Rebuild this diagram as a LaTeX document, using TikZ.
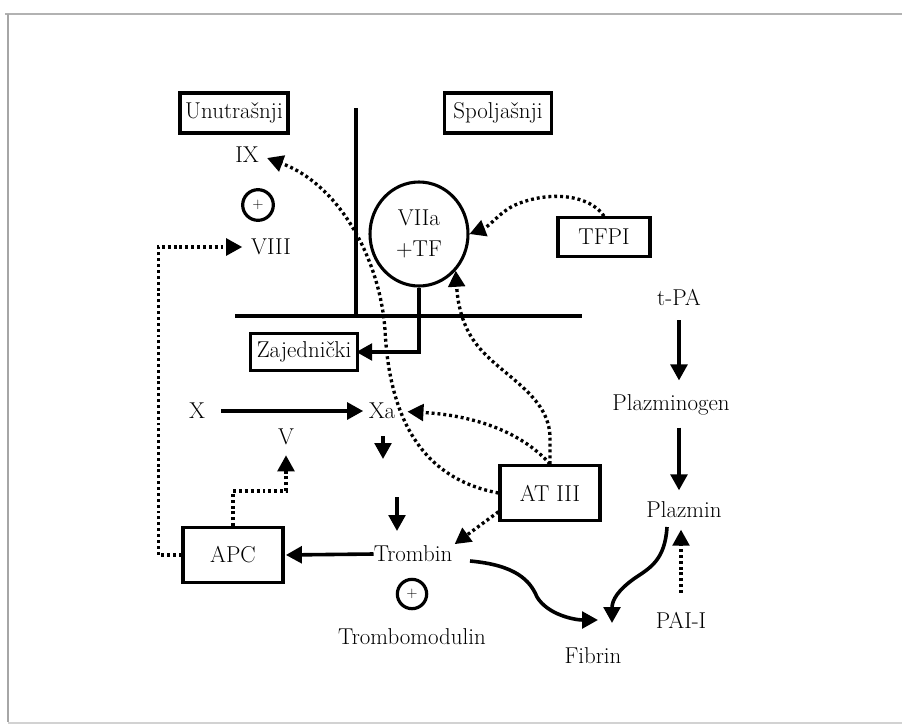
\documentclass[tikz,border=0pt]{standalone}
\usetikzlibrary{arrows.meta,shapes.geometric,calc}
\begin{document}
\begin{tikzpicture}[x=0.75pt,y=-0.75pt,
  every node/.style={font=\fontsize{17.2}{23}\selectfont, inner sep=0pt},
  box/.style={draw, line width=2.3pt, rectangle},
  wall/.style={line width=2.5pt},
  thk/.style={line width=2.7pt, -{Triangle[length=12pt,width=12.5pt]}},
  dots/.style={line width=2.5pt, dash pattern=on 2.2pt off 2.2pt, -{Triangle[length=12pt,width=12.5pt]}},
  plus/.style={circle, draw, line width=2.4pt, font=\fontsize{11}{12}\selectfont}
]
\useasboundingbox (0,0) rectangle (902,725);
% frame
\draw[gray!60, line width=2pt] (5,14) -- (902,14);
\draw[gray!70, line width=1.5pt] (8,14) -- (8,722);
\draw[gray!35, line width=1pt] (8,723) -- (902,723);

% top labels
\node[box, minimum width=81pt, minimum height=30pt] (unut) at (234,113) {Unutrašnji};
\node[box, minimum width=80pt, minimum height=30pt] (spol) at (498,113) {Spoljašnji};

% walls
\coordinate (vtop) at (356,108); \coordinate (vbot) at (356,316);
\coordinate (hl) at (235,316); \coordinate (hr) at (582,316);
\draw[wall] (vtop) -- (vbot);
\draw[wall] (hl) -- (hr);

% intrinsic side
\node (ix) at (247,155) {IX};
\node[plus, minimum size=23pt] (p1) at (258,205) {+};
\node (viii) at (271,247) {VIII};

% extrinsic
\node[draw, ellipse, line width=2.3pt, minimum width=73.5pt, minimum height=78pt, align=center] (c7) at (419,234) {VIIa\\+TF};
\node[box, minimum width=69pt, minimum height=29pt] (tfpi) at (604,237) {TFPI};

% common
\node[box, minimum width=80pt, minimum height=28pt] (zaj) at (304,352) {Zajednički};

\node (x) at (197,411) {X};
\node (xa) at (382,411) {Xa};
\node (v) at (286,437) {V};
\node[box, minimum width=75pt, minimum height=41pt] (at3) at (550,493) {AT III};
\node[box, minimum width=75pt, minimum height=41pt] (apc) at (233,555) {APC};
\node (trom) at (413,554) {Trombin};
\node[plus, minimum size=22pt] (p2) at (412,594) {+};
\node (tmod) at (412,637) {Trombomodulin};
\node (fib) at (593,656) {Fibrin};

% fibrinolysis
\node (tpa) at (679,297) {t-PA};
\node (plg) at (671,405) {Plazminogen};
\node (plm) at (684,510) {Plazmin};
\node (pai) at (681,620) {PAI-I};

% coordinates for free ends
\coordinate (a1) at (383,436); \coordinate (a2) at (383,459);
\coordinate (b1) at (397,497); \coordinate (b2) at (397,531);
\coordinate (tf) at (470,561); \coordinate (fibL) at (598,620);
\coordinate (pf) at (667,527); \coordinate (fibR) at (612,623);

% solid connectors
\draw[thk, shorten <=12pt, shorten >=4pt] (x) -- (xa);
\draw[thk] (a1) -- (a2);
\draw[thk] (b1) -- (b2);
\draw[thk, shorten >=1pt] (trom.west) -- (apc.east);
\draw[thk, shorten >=-2pt] (c7.south) |- (zaj.east);
\draw[thk] (tf) .. controls (515,565) and (530,580) .. (537,597)
            .. controls (548,615) and (575,620) .. (fibL);
\draw[thk] (pf) .. controls (665,560) and (650,568) .. (635,578)
            .. controls (618,590) and (612,600) .. (fibR);
\draw[thk, shorten <=11pt, shorten >=10.5pt] (tpa.south) -- (tpa.south |- plg.north);
\draw[thk, shorten <=9pt, shorten >=8.5pt] (tpa.south |- plg.south) -- (tpa.south |- plm.north);

% dotted connectors
\draw[dots, shorten >=6.5pt] (at3.west) .. controls (430,480) and (390,430) .. (385,330)
            .. controls (380,260) and (340,185) .. (ix.east);
\draw[dots, shorten >=6.5pt] (apc.west) -- ++(-23,0) |- (viii.west);
\draw[dots, shorten >=7.5pt] (apc.north) -- ++(0,-35) -| (v.south);
\draw[dots] (tfpi.north) .. controls (590,195) and (550,190) .. (515,205)
            .. controls (500,212) and (490,226) .. (c7.east);
\draw[dots] (at3.north) -- ++(0,-26) .. controls (550,395) and (500,375) .. (477,345)
            .. controls (465,330) and (458,310) .. (c7.-45);
\draw[dots, shorten >=9pt] (at3.north) .. controls (520,430) and (470,415) .. (xa.east);
\draw[dots, shorten >=2pt] (at3.-160) -- (trom.north east);
\draw[dots, shorten <=14pt, shorten >=8.5pt] (pai.north) -- (pai.north |- plm.south);
\end{tikzpicture}
\end{document}
